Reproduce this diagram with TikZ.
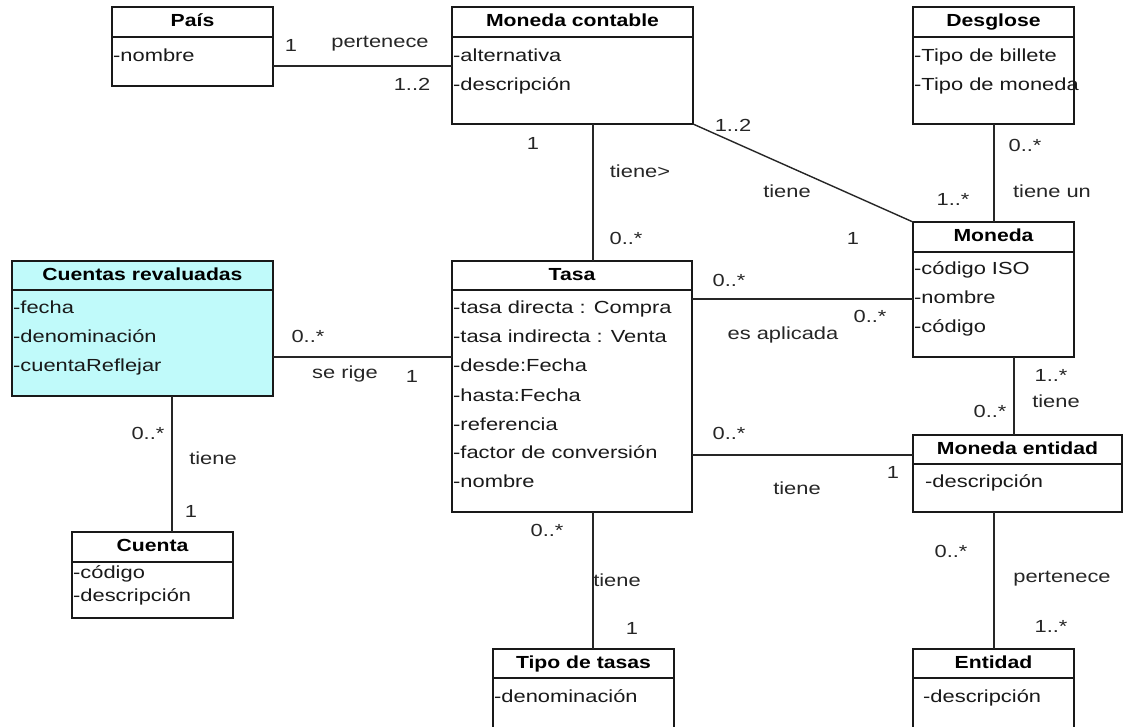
\documentclass[tikz,border=0pt]{standalone}
\usepackage{fontspec}
\setmainfont{Liberation Sans}[FakeStretch=1.25]
\newfontfamily\titlefont{Liberation Sans}[FakeStretch=1.21]

% class box: name, x1, y1, x2, y2, header rule y, title
\newcommand{\classbox}[8][]{%
  \node[frame,#1,minimum width={#5pt-#3pt},minimum height={#6pt-#4pt}] (#2) at (#3,#4) {};
  \draw[rule] (#2.west |- 0,#7) -- (#2.east |- 0,#7);
  \node[clstitle] (#2-title) at (#2.north |- 0,{(#4+#7)/2}) {#8};
}

\begin{document}
\begin{tikzpicture}[x=1pt,y=-1pt,
  frame/.style={draw=black!90,line width=1.6pt,inner sep=0pt,outer sep=0pt,anchor=north west},
  rule/.style={draw=black!90,line width=1.6pt},
  assoc/.style={draw=black!85,line width=1.4pt},
  clstitle/.style={font=\titlefont\bfseries\fontsize{17.5}{20}\selectfont,inner sep=0pt,text height=13pt,text depth=4pt},
  attr/.style={font=\fontsize{17.5}{20}\selectfont,anchor=west,inner sep=1pt,text height=13pt,text depth=4pt,text=black!90},
  lbl/.style={font=\fontsize{17.5}{20}\selectfont,inner sep=0pt,text height=13pt,text depth=4pt,text=black!85}]

\fill[white] (0,0) rectangle (1125,726);
\clip (0,0) rectangle (1125,726);

% classes
\classbox{pais}{112}{7}{273}{86}{37}{País}
\node[attr] (pais-a1) at (pais.west |- 0,57) {-nombre};

\classbox{mcont}{452}{7}{693}{124}{37}{Moneda contable}
\node[attr] (mcont-a1) at (mcont.west |- 0,57) {-alternativa};
\node[attr] (mcont-a2) at (mcont.west |- 0,86) {-descripción};

\classbox{desg}{913}{7}{1074}{124}{37}{Desglose}
\node[attr] (desg-a1) at (desg.west |- 0,57) {-Tipo de billete};
\node[attr] (desg-a2) at (desg.west |- 0,86) {-Tipo de moneda};

\classbox{moneda}{913}{222}{1074}{357}{252}{Moneda}
\node[attr] (moneda-a1) at (moneda.west |- 0,270) {-código ISO};
\node[attr] (moneda-a2) at (moneda.west |- 0,299) {-nombre};
\node[attr] (moneda-a3) at (moneda.west |- 0,328) {-código};

\classbox[fill={rgb,255:red,192;green,250;blue,250}]{crev}{12}{261}{273}{396}{290}{Cuentas revaluadas}
\node[attr] (crev-a1) at (crev.west |- 0,309) {-fecha};
\node[attr] (crev-a2) at (crev.west |- 0,338) {-denominación};
\node[attr] (crev-a3) at (crev.west |- 0,367) {-cuentaReflejar};

\classbox{tasa}{452}{261}{692}{512}{290}{Tasa}
\node[attr] (tasa-a1) at (tasa.west |- 0,309) {-tasa directa : Compra};
\node[attr] (tasa-a2) at (tasa.west |- 0,338) {-tasa indirecta : Venta};
\node[attr] (tasa-a3) at (tasa.west |- 0,367) {-desde:Fecha};
\node[attr] (tasa-a4) at (tasa.west |- 0,397) {-hasta:Fecha};
\node[attr] (tasa-a5) at (tasa.west |- 0,426) {-referencia};
\node[attr] (tasa-a6) at (tasa.west |- 0,454) {-factor de conversión};
\node[attr] (tasa-a7) at (tasa.west |- 0,483) {-nombre};

\classbox{ment}{913}{435}{1122}{512}{464}{Moneda entidad}
\node[attr,xshift=11pt] (ment-a1) at (ment.west |- 0,483) {-descripción};

\classbox{cuenta}{72}{532}{233}{618}{562}{Cuenta}
\node[attr] (cuenta-a1) at (cuenta.west |- 0,574) {-código};
\node[attr] (cuenta-a2) at (cuenta.west |- 0,597) {-descripción};

\classbox{ttasa}{493}{649}{674}{790}{678}{Tipo de tasas}
\node[attr] (ttasa-a1) at (ttasa.west |- 0,698) {-denominación};

\classbox{entidad}{913}{649}{1074}{790}{678}{Entidad}
\node[attr,xshift=9pt] (entidad-a1) at (entidad.west |- 0,698) {-descripción};

% associations
\draw[assoc] (pais.east |- 0,66) -- (mcont.west |- 0,66);
\draw[assoc] (mcont.south -| 593,0) -- (tasa.north -| 593,0);
\draw[assoc] (mcont.south east) -- (moneda.north west);
\draw[assoc] (desg.south -| 994,0) -- (moneda.north -| 994,0);
\draw[assoc] (tasa.east |- 0,299) -- (moneda.west |- 0,299);
\draw[assoc] (moneda.south -| 1014,0) -- (ment.north -| 1014,0);
\draw[assoc] (tasa.east |- 0,455) -- (ment.west |- 0,455);
\draw[assoc] (crev.east |- 0,357) -- (tasa.west |- 0,357);
\draw[assoc] (crev.south -| 172,0) -- (cuenta.north -| 172,0);
\draw[assoc] (tasa.south -| 593,0) -- (ttasa.north -| 593,0);
\draw[assoc] (ment.south -| 994,0) -- (entidad.north -| 994,0);

% association names and multiplicities
\node[lbl] (l1) at (291,47) {1};
\node[lbl] (l2) at (380,43) {pertenece};
\node[lbl] (l3) at (412,86) {1..2};
\node[lbl] (l4) at (533,145) {1};
\node[lbl] (l5) at (640,173) {tiene>};
\node[lbl] (l6) at (626,240) {0..*};
\node[lbl] (l7) at (733,127) {1..2};
\node[lbl] (l8) at (787,193) {tiene};
\node[lbl] (l9) at (853,240) {1};
\node[lbl] (l10) at (1025,147) {0..*};
\node[lbl] (l11) at (1052,193) {tiene un};
\node[lbl] (l12) at (953,201) {1..*};
\node[lbl] (l13) at (729,282) {0..*};
\node[lbl] (l14) at (783,335) {es aplicada};
\node[lbl] (l15) at (870,318) {0..*};
\node[lbl] (l16) at (1051,377) {1..*};
\node[lbl] (l17) at (1056,403) {tiene};
\node[lbl] (l18) at (990,413) {0..*};
\node[lbl] (l19) at (729,435) {0..*};
\node[lbl] (l20) at (797,490) {tiene};
\node[lbl] (l21) at (893,474) {1};
\node[lbl] (l22) at (308,338) {0..*};
\node[lbl] (l23) at (345,374) {se rige};
\node[lbl] (l24) at (412,378) {1};
\node[lbl] (l25) at (148,435) {0..*};
\node[lbl] (l26) at (213,460) {tiene};
\node[lbl] (l27) at (191,513) {1};
\node[lbl] (l28) at (547,532) {0..*};
\node[lbl] (l29) at (617,582) {tiene};
\node[lbl] (l30) at (632,630) {1};
\node[lbl] (l31) at (951,553) {0..*};
\node[lbl] (l32) at (1062,578) {pertenece};
\node[lbl] (l33) at (1051,628) {1..*};
\end{tikzpicture}
\end{document}
